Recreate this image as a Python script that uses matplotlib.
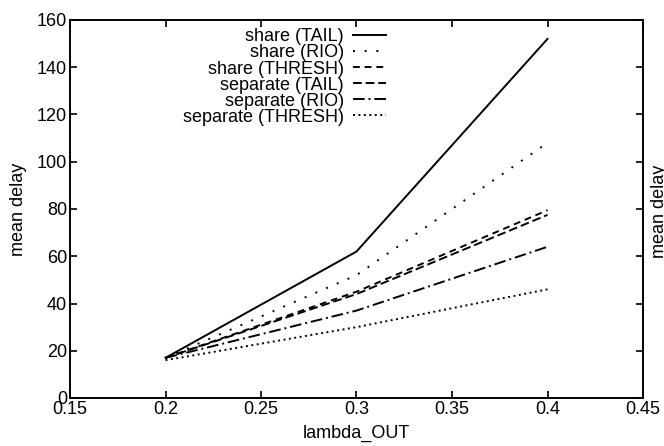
import matplotlib
matplotlib.use("Agg")
import matplotlib.pyplot as plt

plt.rcParams['font.family'] = ['Liberation Sans', 'DejaVu Sans']
plt.rcParams['font.size'] = 13

x = [0.2, 0.3, 0.4]
share_tail = [17, 62, 152]
share_rio = [17, 52, 108]
share_thresh = [17, 45, 79.5]
separate_tail = [17, 44, 77.5]
separate_rio = [17, 37, 64]
separate_thresh = [16, 30, 46]

labels = ["share (TAIL)", "share (RIO)", "share (THRESH)",
          "separate (TAIL)", "separate (RIO)", "separate (THRESH)"]
series = [share_tail, share_rio, share_thresh, separate_tail, separate_rio, separate_thresh]
styles = ['-', (0, (1, 5)), (0, (3.5, 2.5)), (0, (4.5, 2)), (0, (6, 2, 1, 2)), (0, (1, 1.8))]

xticks = [0.15, 0.2, 0.25, 0.3, 0.35, 0.4, 0.45]
yticks = [0, 20, 40, 60, 80, 100, 120, 140, 160]

fig = plt.figure(figsize=(6.64, 4.46), dpi=100)
ax = fig.add_axes([70/664, 48/446, 573/664, 378/446])

for ys, lab, ls in zip(series, labels, styles):
    ax.plot(x, ys, color='black', linestyle=ls, linewidth=1.4, label=lab)

ax.set_xlim(0.15, 0.45)
ax.set_ylim(0, 160)
ax.set_xticks(xticks)
ax.set_xticklabels([f"{t:g}" for t in xticks])
ax.set_yticks(yticks)
ax.tick_params(direction='in', length=5, width=1.2, top=True, right=True, pad=2)
for s in ax.spines.values():
    s.set_linewidth(1.4)

ax.set_xlabel("lambda_OUT", labelpad=5)
ax.set_ylabel("mean delay")
ax.yaxis.set_label_coords(-0.075, 0.5)

leg = ax.legend(loc='upper right', bbox_to_anchor=(0.552, 0.978), frameon=False,
                markerfirst=False, handlelength=1.85, handletextpad=0.5,
                labelspacing=-0.05, borderpad=0, borderaxespad=0)

fig.text(660/664, 1 - 211/446, "mean delay", rotation=90, ha='center', va='center')

fig.savefig("out.png", dpi=100)
